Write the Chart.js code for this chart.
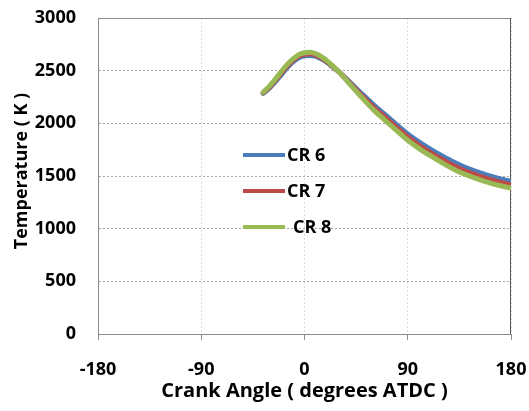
<!DOCTYPE html>
<html>
<head>
<meta charset="utf-8">
<script src="https://cdn.jsdelivr.net/npm/chart.js@4.4.1/dist/chart.umd.min.js"></script>
<style>
    html, body { margin: 0; padding: 0; background: #fff; }
    #wrap { width: 529px; height: 411px; }
</style>
</head>
<body>
<div id="wrap"><canvas id="chart" width="529" height="411"></canvas></div>
<script>
// crank angle (degrees ATDC) shared by all three runs
const crankAngle = [-36, -30, -25, -20, -15, -10, -5, 0, 5, 10, 15, 20, 25, 30, 40, 50, 60, 70, 80, 90, 100, 110, 120, 130, 140, 150, 160, 170, 180];

// temperature (K) per compression ratio
const cr6Temp = [2285, 2340, 2400, 2465, 2530, 2583, 2622, 2640, 2645, 2636, 2610, 2575, 2532, 2488, 2385, 2280, 2178, 2085, 1990, 1900, 1822, 1752, 1690, 1632, 1582, 1542, 1505, 1475, 1450];
const cr7Temp = [2290, 2350, 2412, 2480, 2545, 2598, 2638, 2655, 2660, 2648, 2620, 2582, 2535, 2488, 2375, 2262, 2155, 2058, 1962, 1870, 1790, 1720, 1657, 1598, 1548, 1508, 1472, 1442, 1415];
const cr8Temp = [2295, 2360, 2425, 2495, 2560, 2612, 2652, 2670, 2675, 2660, 2630, 2590, 2540, 2490, 2365, 2245, 2130, 2030, 1935, 1840, 1760, 1690, 1625, 1565, 1515, 1475, 1440, 1410, 1385];

const seriesLabels = ['CR 6', 'CR 7', 'CR 8'];
const xTicks = [-180, -90, 0, 90, 180];
const yTicks = [0, 500, 1000, 1500, 2000, 2500, 3000];

const FONT = '"Open Sans", sans-serif';

function toPoints(temps) {
    return crankAngle.map((a, i) => ({ x: a, y: temps[i] }));
}

// frame around the plot area, y title and the legend sitting inside the plot
const framePlugin = {
    id: 'frame',
    beforeDatasetsDraw(chart) {
        const { ctx, chartArea: a } = chart;
        ctx.save();
        ctx.strokeStyle = '#8c8c8c';
        ctx.lineWidth = 1;
        ctx.strokeRect(a.left + 0.5, a.top + 0.5, a.right - a.left - 1, a.bottom - a.top);
        ctx.strokeStyle = '#555';
        ctx.beginPath();
        ctx.moveTo(a.right - 0.5, a.top);
        ctx.lineTo(a.right - 0.5, a.bottom);
        ctx.stroke();

        ctx.translate(22, 171);
        ctx.rotate(-Math.PI / 2);
        ctx.font = 'bold 18px ' + FONT;
        ctx.fillStyle = '#000';
        ctx.textAlign = 'center';
        ctx.textBaseline = 'middle';
        ctx.fillText('Temperature ( K )', 0, 0);
        ctx.restore();
    },
    afterDatasetsDraw(chart) {
        const { ctx } = chart;
        const rows = [155, 191, 227];
        const textShift = [0, 0, 6];
        ctx.save();
        ctx.font = 'bold 18px ' + FONT;
        ctx.textBaseline = 'middle';
        ctx.fillStyle = '#000';
        chart.data.datasets.forEach((ds, i) => {
            ctx.strokeStyle = ds.borderColor;
            ctx.lineWidth = 4;
            ctx.beginPath();
            ctx.moveTo(243, rows[i]);
            ctx.lineTo(285, rows[i]);
            ctx.stroke();
            ctx.fillText(ds.label, 287 + textShift[i], rows[i] + 1);
        });
        ctx.restore();
    }
};

new Chart(document.getElementById('chart'), {
    type: 'line',
    data: {
        datasets: [
            { label: seriesLabels[0], data: toPoints(cr6Temp), borderColor: '#4a7ebb', order: 3 },
            { label: seriesLabels[1], data: toPoints(cr7Temp), borderColor: '#be4b48', order: 2 },
            { label: seriesLabels[2], data: toPoints(cr8Temp), borderColor: '#98b954', order: 1 }
        ].map(ds => Object.assign(ds, {
            borderWidth: 5,
            pointRadius: 0,
            fill: false,
            cubicInterpolationMode: 'monotone',
            borderCapStyle: 'round'
        }))
    },
    options: {
        responsive: false,
        animation: false,
        layout: { padding: { top: 18, right: 18, left: 0, bottom: 0 } },
        plugins: {
            legend: { display: false },
            tooltip: { enabled: false }
        },
        scales: {
            x: {
                type: 'linear',
                min: -180,
                max: 180,
                afterBuildTicks: s => { s.ticks = xTicks.map(v => ({ value: v })); },
                afterFit: s => { s.height = 77; s.paddingLeft = 0; s.paddingRight = 0; },
                grid: { color: '#dedede', tickLength: 6, tickColor: '#8c8c8c' },
                border: { display: true, color: '#8c8c8c', dash: [2, 2] },
                ticks: {
                    color: '#000',
                    padding: 19,
                    maxRotation: 0,
                    callback: v => String(v),
                    font: { family: FONT, size: 18, weight: 'bold' }
                },
                title: {
                    display: true,
                    text: 'Crank Angle ( degrees ATDC )',
                    color: '#000',
                    padding: { top: 0, bottom: 8 },
                    font: { family: FONT, size: 20, weight: 'bold' }
                }
            },
            y: {
                min: 0,
                max: 3000,
                afterBuildTicks: s => { s.ticks = yTicks.map(v => ({ value: v })); },
                afterFit: s => { s.width = 98; s.paddingTop = 0; s.paddingBottom = 0; },
                grid: { color: '#a6a6a6', drawTicks: false },
                border: { display: true, color: '#8c8c8c', dash: [2, 2] },
                ticks: {
                    color: '#000',
                    padding: 22,
                    callback: v => String(v),
                    font: { family: FONT, size: 18, weight: 'bold' }
                }
            }
        }
    },
    plugins: [framePlugin]
});
</script>
</body>
</html>
